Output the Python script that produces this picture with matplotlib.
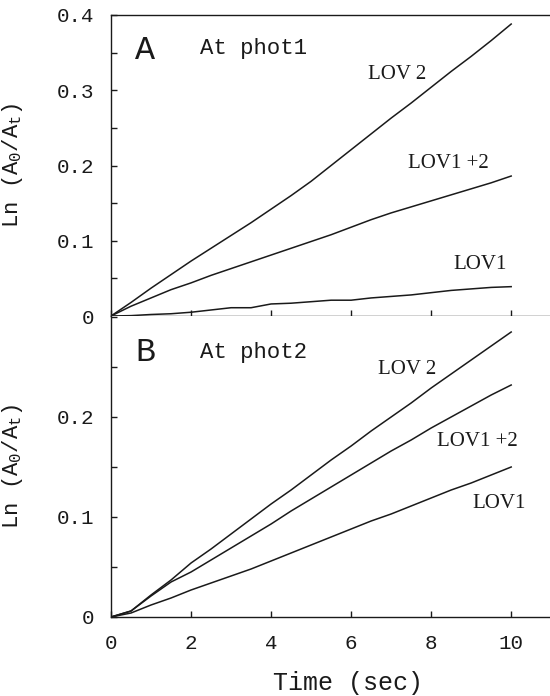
#!/usr/bin/env python3
# coding: utf-8

import numpy
import matplotlib
matplotlib.use('Agg')
from matplotlib import pyplot as plt
from matplotlib.ticker import MultipleLocator, FixedLocator


MONO = 'Liberation Mono'
SERIF = 'Liberation Serif'
INK = '#1a1a1a'

# time axis, seconds
TIME = [0.0, 0.5, 1.0, 1.5, 2.0, 2.5, 3.0, 3.5, 4.0, 4.5, 5.0,
        5.5, 6.0, 6.5, 7.0, 7.5, 8.0, 8.5, 9.0, 9.5, 10.0]

# panel A: At phot1
PHOT1_LOV2 = [0.0, 0.018, 0.037, 0.055, 0.073, 0.090, 0.107, 0.124, 0.142, 0.160, 0.179,
              0.200, 0.221, 0.242, 0.263, 0.283, 0.304, 0.325, 0.345, 0.366, 0.388]
PHOT1_LOV12 = [0.0, 0.013, 0.024, 0.035, 0.044, 0.054, 0.063, 0.072, 0.081, 0.090, 0.099,
               0.108, 0.118, 0.128, 0.137, 0.145, 0.153, 0.161, 0.169, 0.177, 0.186]
PHOT1_LOV1 = [0.0, 0.0005, 0.002, 0.003, 0.005, 0.008, 0.011, 0.011, 0.016, 0.017, 0.019,
              0.021, 0.021, 0.024, 0.026, 0.028, 0.031, 0.034, 0.036, 0.038, 0.039]

# panel B: At phot2
PHOT2_LOV2 = [0.0, 0.006, 0.022, 0.037, 0.054, 0.068, 0.083, 0.098, 0.113, 0.127, 0.142,
              0.157, 0.171, 0.186, 0.200, 0.214, 0.229, 0.243, 0.257, 0.271, 0.285]
PHOT2_LOV12 = [0.0, 0.006, 0.021, 0.035, 0.045, 0.057, 0.069, 0.081, 0.093, 0.106, 0.118,
               0.130, 0.142, 0.154, 0.166, 0.177, 0.189, 0.200, 0.211, 0.222, 0.232]
PHOT2_LOV1 = [0.0, 0.004, 0.012, 0.019, 0.027, 0.034, 0.041, 0.048, 0.056, 0.064, 0.072,
              0.080, 0.088, 0.096, 0.103, 0.111, 0.119, 0.127, 0.134, 0.142, 0.150]

XTICKS = [0, 2, 4, 6, 8, 10]
YLABEL = r'Ln (A$_\mathrm{0}$/A$_\mathrm{t}$)'
XLABEL = 'Time (sec)'


def style_axis(ax, ymax, ylabels):
    ax.set_xlim(0, 10.97)
    ax.set_ylim(0, ymax)
    ax.spines['right'].set_visible(False)
    for side in ['top', 'left', 'bottom']:
        ax.spines[side].set_color(INK)
        ax.spines[side].set_linewidth(1.0)

    ax.xaxis.set_major_locator(FixedLocator(XTICKS))
    ax.yaxis.set_major_locator(FixedLocator(list(ylabels.keys())))
    ax.yaxis.set_minor_locator(MultipleLocator(0.05))
    ax.set_yticklabels(list(ylabels.values()))

    ax.tick_params(axis='both', which='both', direction='in', length=4,
                   width=1.0, color=INK, top=False, right=False)
    ax.tick_params(axis='y', pad=12, labelsize=15, labelcolor=INK)
    ax.tick_params(axis='x', pad=12, labelsize=15, labelcolor=INK)
    for lbl in ax.get_xticklabels() + ax.get_yticklabels():
        lbl.set_family(MONO)

    ax.set_ylabel(YLABEL, family=MONO, size=16, color=INK)
    ax.yaxis.set_label_coords(-0.196, 0.5)


def main():
    plt.rcParams['mathtext.fontset'] = 'custom'
    plt.rcParams['mathtext.rm'] = MONO
    plt.rcParams['mathtext.it'] = MONO

    fig = plt.figure(figsize=(5.5, 6.96), dpi=100)
    left, width = 111 / 550, 439 / 550
    ax_a = fig.add_axes([left, 1 - 316 / 696, width, 301 / 696])
    ax_b = fig.add_axes([left, 1 - 617 / 696, width, 301 / 696])

    t = numpy.array(TIME)
    for series in (PHOT1_LOV2, PHOT1_LOV12, PHOT1_LOV1):
        ax_a.plot(t, series, color=INK, lw=1.1)
    for series in (PHOT2_LOV2, PHOT2_LOV12, PHOT2_LOV1):
        ax_b.plot(t, series, color=INK, lw=1.1)

    style_axis(ax_a, 0.4, {0.0: '0', 0.1: '0.1', 0.2: '0.2', 0.3: '0.3', 0.4: '0.4'})
    style_axis(ax_b, 0.301, {0.0: '0', 0.1: '0.1', 0.2: '0.2'})
    ax_a.tick_params(axis='x', labelbottom=False)
    ax_b.spines['top'].set_visible(False)
    ax_b.set_xlabel(XLABEL, family=MONO, size=18, color=INK)
    ax_b.xaxis.set_label_coords(0.54, -0.178)

    # panel titles
    ax_a.text(0.6, 0.353, 'A', family=MONO, size=24, color=INK, va='center')
    ax_a.text(2.23, 0.355, 'At phot1', family=MONO, size=16, color=INK, va='center')
    ax_b.text(0.6, 0.265, 'B', family=MONO, size=24, color=INK, va='center')
    ax_b.text(2.23, 0.265, 'At phot2', family=MONO, size=16, color=INK, va='center')

    # curve labels
    ax_a.text(6.43, 0.321, 'LOV 2', family=SERIF, size=15, color=INK, va='center')
    ax_a.text(7.43, 0.203, 'LOV1 +2', family=SERIF, size=15, color=INK, va='center')
    ax_a.text(8.55, 0.068, 'LOV1', family=SERIF, size=15, color=INK, va='center')
    ax_b.text(6.68, 0.248, 'LOV 2', family=SERIF, size=15, color=INK, va='center')
    ax_b.text(8.15, 0.176, 'LOV1 +2', family=SERIF, size=15, color=INK, va='center')
    ax_b.text(9.03, 0.114, 'LOV1', family=SERIF, size=15, color=INK, va='center')

    fig.savefig('out.png', dpi=100)


if __name__ == '__main__':
    main()
